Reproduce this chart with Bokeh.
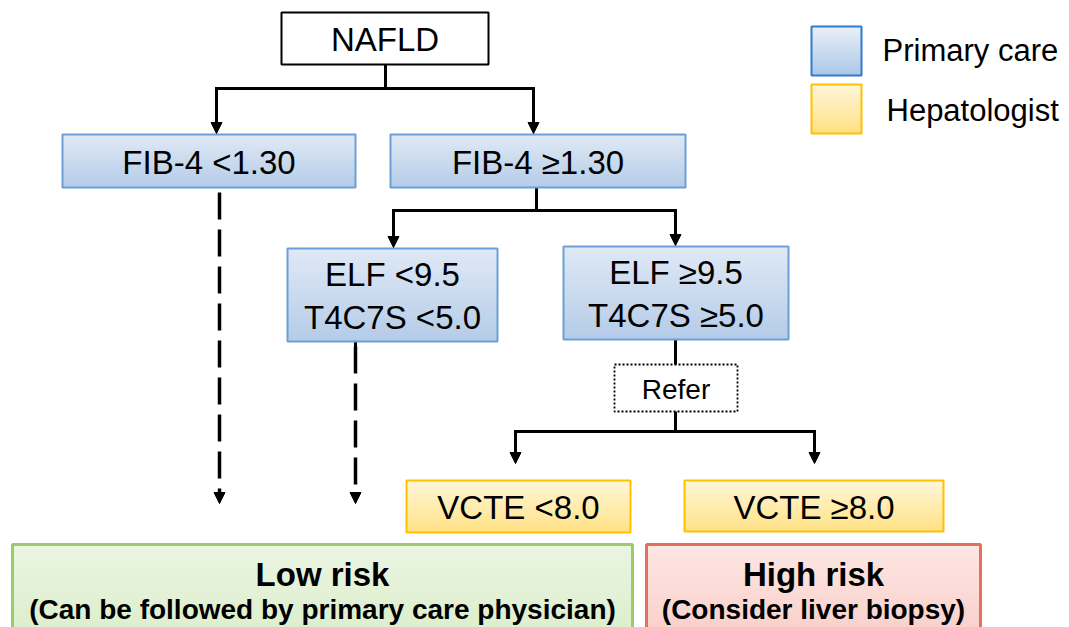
import numpy as np
from bokeh.plotting import figure
from bokeh.models import Range1d, Arrow, NormalHead
from bokeh.core.properties import value
from bokeh.embed import file_html
from bokeh.resources import INLINE

# ---------------- content ----------------
node_labels = ["NAFLD", "FIB-4 <1.30", "FIB-4 \u22651.30",
               "ELF <9.5\nT4C7S <5.0", "ELF \u22659.5\nT4C7S \u22655.0",
               "Refer", "VCTE <8.0", "VCTE \u22658.0"]
node_roles = ["start", "primary", "primary", "primary", "primary",
              "refer", "hepatologist", "hepatologist"]
outcome_titles = ["Low risk", "High risk"]
outcome_notes = ["(Can be followed by primary care physician)", "(Consider liver biopsy)"]
outcome_roles = ["low", "high"]
legend_labels = ["Primary care", "Hepatologist"]
legend_roles = ["legend_primary", "legend_hepatologist"]

# ---------------- layout (page pixels) ----------------
node_left = [281, 62, 390, 287, 563, 614, 406, 684]
node_right = [488, 355, 685, 497, 788, 737, 630, 943]
node_top = [12, 134, 134, 248, 246, 364, 480, 480]
node_bottom = [64, 187, 187, 341, 339, 411, 532, 531]

out_left = [12, 646]
out_right = [632, 980]
out_top = [544, 544]
out_bottom = [660, 660]

leg_left = [811, 811]
leg_right = [861, 861]
leg_top = [26, 84]
leg_bottom = [75, 133]
leg_text_x = [882, 886]
leg_text_y = [50, 110]

styles = {
    "start": dict(top="#FFFFFF", bottom="#FFFFFF", line="#000000", lw=2, dash="solid", size="33px"),
    "primary": dict(top="#DFE9F5", bottom="#B5CCE8", line="#6B9FD6", lw=2, dash="solid", size="33px"),
    "refer": dict(top="#FFFFFF", bottom="#FFFFFF", line="#000000", lw=1.8, dash="2 2", size="28px"),
    "hepatologist": dict(top="#FFF6D8", bottom="#FFE286", line="#FFC000", lw=2, dash="solid", size="33px"),
    "legend_primary": dict(top="#E8EFF9", bottom="#ADC8E6", line="#2E7BCF", lw=2, dash="solid"),
    "legend_hepatologist": dict(top="#FFF6D8", bottom="#FFE083", line="#FFC000", lw=2, dash="solid"),
    "low": dict(top="#EBF5E2", bottom="#D8ECC6", line="#9CCB6B", lw=3, dash="solid"),
    "high": dict(top="#FDE6E3", bottom="#F8C9C3", line="#E4725A", lw=3, dash="solid"),
}

W, H = 1069, 627
p = figure(width=W, height=H, output_backend="svg", toolbar_location=None,
           x_range=Range1d(0, W), y_range=Range1d(H, 0),
           min_border=0, min_border_left=0, min_border_right=0,
           min_border_top=0, min_border_bottom=0)
p.axis.visible = False
p.grid.visible = False
p.outline_line_color = None
p.background_fill_color = "white"
p.border_fill_color = "white"

FONT = value("Liberation Sans")


def hex2rgb(h):
    h = h.lstrip("#")
    return np.array([int(h[i:i + 2], 16) for i in (0, 2, 4)], dtype=float)


def grad_box(l, r, t, b, st, n=24):
    c0, c1 = hex2rgb(st["top"]), hex2rgb(st["bottom"])
    edges = np.linspace(t, b, n + 1)
    cols = []
    for i in range(n):
        f = i / max(n - 1, 1)
        c = c0 + (c1 - c0) * f
        cols.append("#%02x%02x%02x" % tuple(int(round(v)) for v in c))
    p.quad(left=[l] * n, right=[r] * n, top=list(edges[:-1]),
           bottom=list(np.minimum(edges[1:] + 0.8, b)), fill_color=cols, line_color=None)
    p.quad(left=[l], right=[r], top=[t], bottom=[b], fill_color=None,
           line_color=st["line"], line_width=st["lw"], line_dash=st["dash"])


# ---------------- connectors ----------------
LW = 3
def seg(x0, y0, x1, y1, dash="solid"):
    p.segment(x0=[x0], y0=[y0], x1=[x1], y1=[y1], line_color="black",
              line_width=LW, line_dash=dash, line_cap="square" if dash == "solid" else "butt")


def arrow(x0, y0, x1, y1, dash="solid", size=11, lw=LW):
    p.add_layout(Arrow(end=NormalHead(size=size, fill_color="black", line_color="black", line_width=1),
                       x_start=x0, y_start=y0, x_end=x1, y_end=y1,
                       line_color="black", line_width=lw, line_dash=dash))


# NAFLD split
seg(385, 64, 385, 88)
seg(216, 88, 533, 88)
arrow(216, 88, 216, 133)
arrow(533, 88, 533, 133)
# FIB-4 >= split
seg(536, 187, 536, 210)
seg(393, 210, 675, 210)
arrow(393, 210, 393, 247)
arrow(675, 210, 675, 245)
# ELF >= to refer
seg(675, 339, 675, 364)
seg(675, 411, 675, 431)
seg(515, 431, 814, 431)
arrow(515, 431, 515, 463)
arrow(814, 431, 814, 463)
# dashed to low risk
seg(355, 341, 355, 346)
arrow(219, 192, 219, 503, dash="27 10", size=11, lw=3.5)
arrow(355, 346, 355, 503, dash="27 10", size=11, lw=3.5)

# ---------------- boxes ----------------
for i, lab in enumerate(node_labels):
    st = styles[node_roles[i]]
    grad_box(node_left[i], node_right[i], node_top[i], node_bottom[i], st)
    cx = (node_left[i] + node_right[i]) / 2
    cy = (node_top[i] + node_bottom[i]) / 2
    p.text(x=[cx], y=[cy + 1], text=[lab], text_font=FONT, text_font_size=st["size"],
           text_align="center", text_baseline="middle", text_color="black",
           text_line_height=1.15)

for i in range(len(outcome_titles)):
    st = styles[outcome_roles[i]]
    grad_box(out_left[i], out_right[i], out_top[i], out_bottom[i], st)
    cx = (out_left[i] + out_right[i]) / 2
    p.text(x=[cx], y=[574], text=[outcome_titles[i]], text_font=FONT, text_font_size="33px",
           text_font_style="bold", text_align="center", text_baseline="middle", text_color="black")
    p.text(x=[cx], y=[609], text=[outcome_notes[i]], text_font=FONT, text_font_size="28px",
           text_font_style="bold", text_align="center", text_baseline="middle", text_color="black")

for i, lab in enumerate(legend_labels):
    st = styles[legend_roles[i]]
    grad_box(leg_left[i], leg_right[i], leg_top[i], leg_bottom[i], st)
    p.text(x=[leg_text_x[i]], y=[leg_text_y[i]], text=[lab], text_font=FONT, text_font_size="31px",
           text_align="left", text_baseline="middle", text_color="black")

open("out.html", "w").write(file_html(p, INLINE))
